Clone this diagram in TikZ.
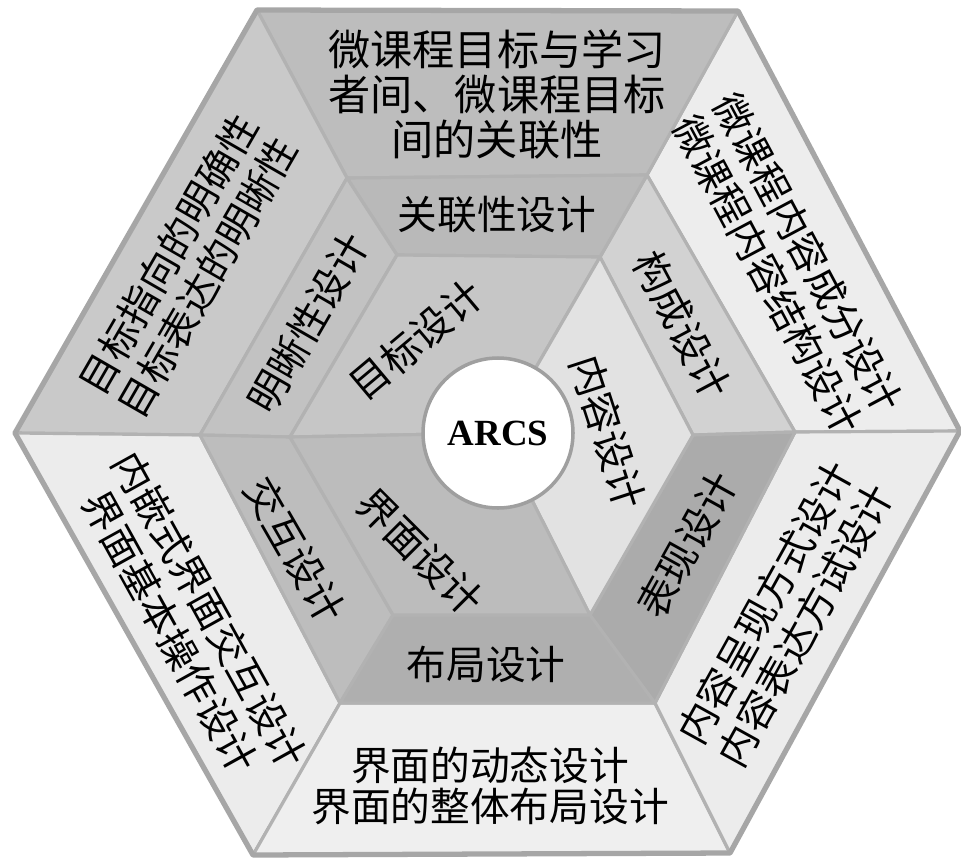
\documentclass[tikz,border=0pt]{standalone}
\usepackage{fontspec}
\newfontfamily\cjk{Noto Sans CJK SC}
\newfontfamily\arcsfont{Liberation Serif}
\usetikzlibrary{calc}
\definecolor{outa}{HTML}{EDEDED}
\definecolor{outb}{HTML}{BDBDBD}
\definecolor{outc}{HTML}{C9C9C9}
\definecolor{outd}{HTML}{ECECEC}
\definecolor{oute}{HTML}{EFEFEF}
\definecolor{outf}{HTML}{ECECEC}
\definecolor{mida}{HTML}{D2D2D2}
\definecolor{midb}{HTML}{B9B9B9}
\definecolor{midc}{HTML}{C2C2C2}
\definecolor{midd}{HTML}{BDBDBD}
\definecolor{mide}{HTML}{AFAFAF}
\definecolor{midf}{HTML}{ABABAB}
\definecolor{inna}{HTML}{C6C6C6}
\definecolor{innb}{HTML}{E2E2E2}
\definecolor{innc}{HTML}{BCBCBC}
\tikzset{
    segline/.style = {draw=gray!60, line width=0.9pt, line join=round},
    rimline/.style = {draw=gray!70, line width=1.5pt, line join=round},
    hub/.style = {circle, draw=gray!75, line width=1pt, fill=white, minimum size=1.5cm, inner sep=0pt, font=\arcsfont\bfseries\fontsize{10.5}{12}\selectfont, text=black},
    toptext/.style = {align=center, inner sep=0pt, font=\cjk\fontsize{12}{12.8}\selectfont, text=black},
    outtext/.style = {align=center, inner sep=0pt, font=\cjk\fontsize{11.2}{13}\selectfont, text=black},
    bottext/.style = {align=center, inner sep=0pt, font=\cjk\fontsize{11.3}{11.8}\selectfont, text=black},
    midtext/.style = {align=center, inner sep=0pt, font=\cjk\fontsize{11.3}{12}\selectfont, text=black}
}
\begin{document}
\begin{tikzpicture}
%
\path[use as bounding box] (0,0) rectangle (9.61,8.59);
% outer, middle and inner hexagon corners
\coordinate (o0) at (9.60,4.28);
\coordinate (o1) at (7.38,8.48);
\coordinate (o2) at (2.57,8.49);
\coordinate (o3) at (0.15,4.26);
\coordinate (o4) at (2.53,0.04);
\coordinate (o5) at (7.30,0.06);
\coordinate (m0) at (7.95,4.27);
\coordinate (m1) at (6.47,6.84);
\coordinate (m2) at (3.47,6.81);
\coordinate (m3) at (2.00,4.24);
\coordinate (m4) at (3.40,1.56);
\coordinate (m5) at (6.55,1.56);
\coordinate (i0) at (6.93,4.24);
\coordinate (i1) at (6.00,6.02);
\coordinate (i2) at (3.97,6.04);
\coordinate (i3) at (2.90,4.22);
\coordinate (i4) at (3.93,2.44);
\coordinate (i5) at (5.90,2.44);
\coordinate (c) at (4.98,4.26);
%
\foreach \i/\j/\col in {0/1/outa,1/2/outb,2/3/outc,3/4/outd,4/5/oute,5/0/outf}
  \filldraw[segline,fill=\col] (o\i) -- (o\j) -- (m\j) -- (m\i) -- cycle;
\foreach \i/\j/\col in {0/1/mida,1/2/midb,2/3/midc,3/4/midd,4/5/mide,5/0/midf}
  \filldraw[segline,fill=\col] (m\i) -- (m\j) -- (i\j) -- (i\i) -- cycle;
%
\filldraw[segline,fill=inna] (c) -- (i1) -- (i2) -- (i3) -- cycle;
\filldraw[segline,fill=innb] (c) -- (i5) -- (i0) -- (i1) -- cycle;
\filldraw[segline,fill=innc] (c) -- (i3) -- (i4) -- (i5) -- cycle;
%
\draw[rimline] (o0) -- (o1) -- (o2) -- (o3) -- (o4) -- (o5) -- cycle;
%
\node[hub] at (c) (arcs) {ARCS};
%
\node[toptext] at (4.97,7.65) (goalrel) {微课程目标与学习\\者间、微课程目标\\间的关联性};
\node[outtext,rotate=60] at (1.88,5.93) (goalclear) {目标指向的明确性\\目标表达的明晰性};
\node[outtext,rotate=-62] at (7.88,5.95) (contpart) {微课程内容成分设计\\微课程内容结构设计};
\node[outtext,rotate=61] at (7.85,2.45) (contshow) {内容呈现方式设计\\内容表达方试设计};
\node[bottext] at (4.90,0.73) (uilay) {界面的动态设计\\界面的整体布局设计};
\node[outtext,rotate=-61] at (1.90,2.38) (uiact) {内嵌式界面交互设计\\界面基本操作设计};
%
\node[midtext] at (4.97,6.44) (rel) {关联性设计};
\node[midtext,rotate=60] at (3.08,5.36) (clar) {明晰性设计};
\node[midtext,rotate=-62] at (6.82,5.34) (comp) {构成设计};
\node[midtext,rotate=61] at (6.87,3.14) (pres) {表现设计};
\node[midtext] at (4.86,1.95) (lay) {布局设计};
\node[midtext,rotate=-60] at (2.95,3.09) (inter) {交互设计};
%
\node[midtext,rotate=40] at (4.16,5.19) (goal) {目标设计};
\node[midtext,rotate=-72] at (6.08,4.27) (cont) {内容设计};
\node[midtext,rotate=-45] at (4.20,3.07) (ui) {界面设计};

\end{tikzpicture}
\end{document}
